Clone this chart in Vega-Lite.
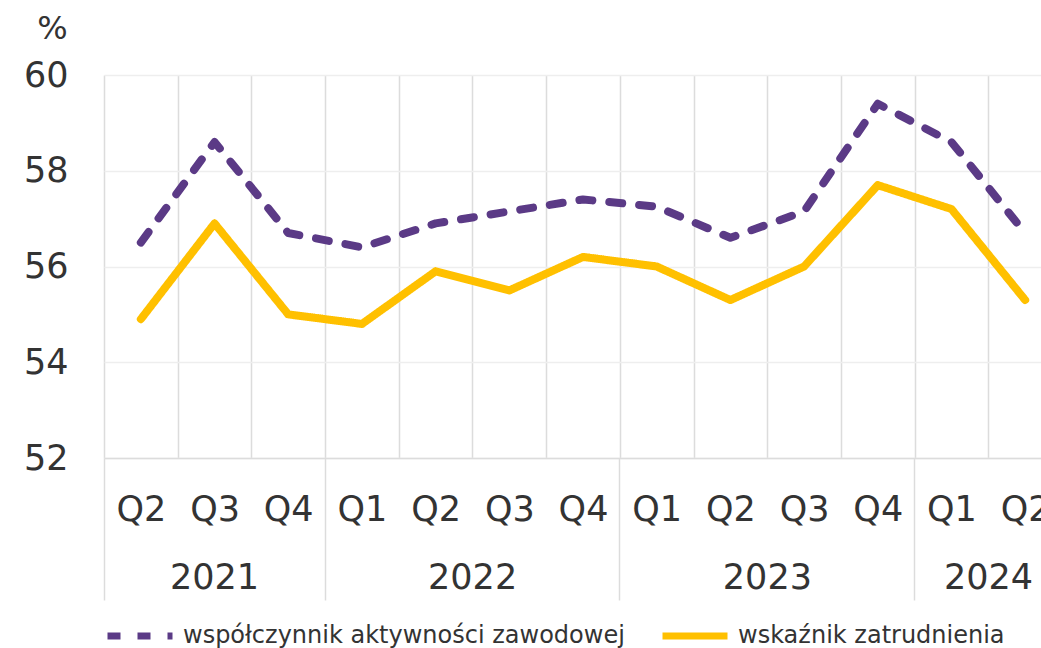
{
  "$schema": "https://vega.github.io/schema/vega-lite/v6.json",
  "width": 958,
  "height": 383,
  "autosize": {"type": "none"},
  "padding": {"left": 104, "top": 75, "right": 0, "bottom": 190},
  "background": "white",
  "config": {
    "font": "DejaVu Sans",
    "view": {"stroke": null},
    "axis": {"labelColor": "#333333", "titleColor": "#333333", "labelFont": "DejaVu Sans"}
  },
  "data": {
    "values": [
      {"okres": "2021 Q2", "seria": "współczynnik aktywności zawodowej", "wartosc": 56.5},
      {"okres": "2021 Q3", "seria": "współczynnik aktywności zawodowej", "wartosc": 58.6},
      {"okres": "2021 Q4", "seria": "współczynnik aktywności zawodowej", "wartosc": 56.7},
      {"okres": "2022 Q1", "seria": "współczynnik aktywności zawodowej", "wartosc": 56.4},
      {"okres": "2022 Q2", "seria": "współczynnik aktywności zawodowej", "wartosc": 56.9},
      {"okres": "2022 Q3", "seria": "współczynnik aktywności zawodowej", "wartosc": 57.15},
      {"okres": "2022 Q4", "seria": "współczynnik aktywności zawodowej", "wartosc": 57.4},
      {"okres": "2023 Q1", "seria": "współczynnik aktywności zawodowej", "wartosc": 57.25},
      {"okres": "2023 Q2", "seria": "współczynnik aktywności zawodowej", "wartosc": 56.6},
      {"okres": "2023 Q3", "seria": "współczynnik aktywności zawodowej", "wartosc": 57.15},
      {"okres": "2023 Q4", "seria": "współczynnik aktywności zawodowej", "wartosc": 59.4},
      {"okres": "2024 Q1", "seria": "współczynnik aktywności zawodowej", "wartosc": 58.6},
      {"okres": "2024 Q2", "seria": "współczynnik aktywności zawodowej", "wartosc": 56.7},
      {"okres": "2021 Q2", "seria": "wskaźnik zatrudnienia", "wartosc": 54.9},
      {"okres": "2021 Q3", "seria": "wskaźnik zatrudnienia", "wartosc": 56.9},
      {"okres": "2021 Q4", "seria": "wskaźnik zatrudnienia", "wartosc": 55.0},
      {"okres": "2022 Q1", "seria": "wskaźnik zatrudnienia", "wartosc": 54.8},
      {"okres": "2022 Q2", "seria": "wskaźnik zatrudnienia", "wartosc": 55.9},
      {"okres": "2022 Q3", "seria": "wskaźnik zatrudnienia", "wartosc": 55.5},
      {"okres": "2022 Q4", "seria": "wskaźnik zatrudnienia", "wartosc": 56.2},
      {"okres": "2023 Q1", "seria": "wskaźnik zatrudnienia", "wartosc": 56.0},
      {"okres": "2023 Q2", "seria": "wskaźnik zatrudnienia", "wartosc": 55.3},
      {"okres": "2023 Q3", "seria": "wskaźnik zatrudnienia", "wartosc": 56.0},
      {"okres": "2023 Q4", "seria": "wskaźnik zatrudnienia", "wartosc": 57.7},
      {"okres": "2024 Q1", "seria": "wskaźnik zatrudnienia", "wartosc": 57.2},
      {"okres": "2024 Q2", "seria": "wskaźnik zatrudnienia", "wartosc": 55.3}
    ]
  },
  "resolve": {"axis": {"x": "independent"}},
  "layer": [
    {
      "mark": {"type": "line", "strokeWidth": 8, "strokeCap": "round", "strokeJoin": "round"},
      "encoding": {
        "x": {
          "field": "okres", "type": "ordinal", "sort": null,
          "scale": {"paddingInner": 0, "paddingOuter": 0},
          "axis": {
            "orient": "bottom",
            "title": null,
            "labelExpr": "split(datum.value, ' ')[1]",
            "labelFontSize": 35,
            "labelPadding": 51,
            "labelBaseline": "middle",
            "labelAngle": 0,
            "labelOverlap": false,
            "labelFlush": false,
            "labelBound": false,
            "ticks": false,
            "grid": true,
            "tickBand": "extent",
            "gridColor": "#dcdcdc",
            "gridWidth": 1.5,
            "domain": true,
            "domainColor": "#dcdcdc",
            "domainWidth": 1.5
          }
        },
        "y": {
          "field": "wartosc", "type": "quantitative",
          "scale": {"domain": [52, 60], "nice": false, "zero": false},
          "axis": {
            "values": [52, 54, 56, 58, 60],
            "title": "%",
            "titleAngle": 0,
            "titleX": -52,
            "titleY": -47,
            "titleAlign": "center",
            "titleBaseline": "middle",
            "titleFontSize": 32,
            "titleFontWeight": "normal",
            "labelFontSize": 35,
            "labelPadding": 36,
            "ticks": false,
            "domain": false,
            "gridColor": "#eeeeee",
            "gridWidth": 1.5
          }
        },
        "color": {
          "field": "seria", "type": "nominal",
          "scale": {"domain": ["współczynnik aktywności zawodowej", "wskaźnik zatrudnienia"], "range": ["#5B3A86", "#FFC000"]},
          "legend": {
            "orient": "bottom",
            "offset": -1,
            "direction": "horizontal",
            "title": null,
            "symbolType": "stroke",
            "symbolSize": 4225,
            "symbolStrokeWidth": 7,
            "labelFontSize": 24,
            "labelLimit": 700,
            "labelColor": "#333333",
            "labelOffset": 7,
            "columnPadding": 23
          }
        },
        "strokeDash": {
          "field": "seria", "type": "nominal",
          "scale": {"domain": ["współczynnik aktywności zawodowej", "wskaźnik zatrudnienia"], "range": [[13, 17], [1, 0]]}
        }
      }
    },
    {
      "mark": {"type": "point", "opacity": 0},
      "encoding": {
        "x": {
          "field": "okres", "type": "ordinal", "sort": null,
          "axis": {
            "orient": "bottom",
            "title": null,
            "values": ["2021 Q2", "2022 Q1", "2023 Q1", "2024 Q1"],
            "bandPosition": 0,
            "labels": false,
            "domain": false,
            "grid": false,
            "ticks": true,
            "tickSize": 142,
            "tickColor": "#dcdcdc",
            "tickWidth": 1.5
          }
        }
      }
    },
    {
      "mark": {"type": "point", "opacity": 0},
      "encoding": {
        "x": {
          "field": "okres", "type": "ordinal", "sort": null,
          "axis": {
            "orient": "bottom",
            "title": null,
            "values": ["2021 Q3"],
            "labelExpr": "split(datum.value, ' ')[0]",
            "labelFontSize": 35,
            "labelPadding": 119,
            "labelBaseline": "middle",
            "labelAngle": 0,
            "labelFlush": false,
            "labelBound": false,
            "labelOverlap": false,
            "domain": false,
            "grid": false,
            "ticks": false
          }
        }
      }
    },
    {
      "mark": {"type": "point", "opacity": 0},
      "encoding": {
        "x": {
          "field": "okres", "type": "ordinal", "sort": null,
          "axis": {
            "orient": "bottom",
            "title": null,
            "values": ["2022 Q2", "2023 Q2", "2024 Q1"],
            "labelOffset": 37,
            "labelExpr": "split(datum.value, ' ')[0]",
            "labelFontSize": 35,
            "labelPadding": 119,
            "labelBaseline": "middle",
            "labelAngle": 0,
            "labelFlush": false,
            "labelBound": false,
            "labelOverlap": false,
            "domain": false,
            "grid": false,
            "ticks": false
          }
        }
      }
    }
  ]
}
